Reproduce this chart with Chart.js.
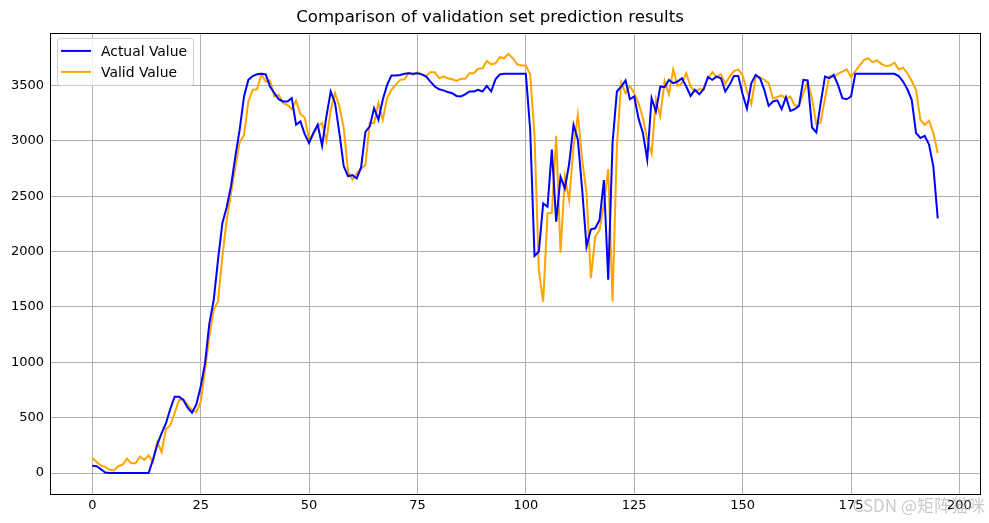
<!DOCTYPE html>
<html>
<head>
<meta charset="utf-8">
<script src="https://cdn.jsdelivr.net/npm/chart.js@4.4.1/dist/chart.umd.min.js"></script>
<style>
  html, body { margin: 0; padding: 0; background: #fff; }
  #wrap { width: 989px; height: 523px; position: relative; }
</style>
</head>
<body>
<div id="wrap"><canvas id="grafico" width="989" height="523"></canvas></div>
<script>
// valores (índice 0..195)
const actual_value = [
  66, 62, 35, 5, 0, 0, 0, 0, 0, 0, 0, 0, 0, 0, 120, 260, 360, 450, 580, 690,
  690, 660, 590, 545, 620, 780, 990, 1350, 1560, 1925, 2255, 2400, 2590, 2860, 3100, 3400, 3550, 3585, 3600, 3605,
  3600, 3490, 3430, 3375, 3355, 3355, 3385, 3145, 3175, 3060, 2980, 3070, 3145, 2955, 3220, 3445, 3340, 3070, 2770, 2680,
  2690, 2660, 2760, 3080, 3130, 3295, 3190, 3370, 3505, 3590, 3590, 3595, 3605, 3610, 3605, 3610, 3600, 3580, 3535, 3490,
  3465, 3455, 3440, 3430, 3405, 3400, 3420, 3445, 3445, 3460, 3445, 3495, 3445, 3555, 3600, 3605, 3605, 3605, 3605, 3605,
  3605, 3100, 1960, 2000, 2435, 2405, 2920, 2270, 2675, 2570, 2795, 3145, 3010, 2555, 2045, 2200, 2210, 2285, 2645, 1745,
  2980, 3445, 3490, 3545, 3375, 3400, 3200, 3070, 2830, 3385, 3265, 3490, 3485, 3550, 3520, 3535, 3565, 3490, 3405, 3460,
  3420, 3465, 3575, 3550, 3580, 3565, 3445, 3505, 3585, 3585, 3420, 3290, 3520, 3595, 3565, 3460, 3315, 3355, 3365, 3285,
  3395, 3270, 3285, 3315, 3550, 3545, 3120, 3075, 3340, 3580, 3565, 3595, 3505, 3385, 3375, 3400, 3605, 3605, 3605, 3605,
  3605, 3605, 3605, 3605, 3605, 3605, 3585, 3535, 3465, 3370, 3070, 3025, 3045, 2965, 2765, 2300
];
const valid_value = [
  135, 100, 68, 56, 30, 24, 62, 75, 130, 88, 88, 150, 118, 160, 100, 280, 190, 400, 430, 540,
  660, 665, 615, 570, 550, 640, 930, 1230, 1475, 1550, 1955, 2285, 2525, 2765, 2990, 3050, 3355, 3460, 3465, 3600,
  3535, 3545, 3400, 3415, 3340, 3325, 3285, 3365, 3240, 3210, 3010, 3060, 3130, 3160, 3000, 3280, 3430, 3310, 3115, 2720,
  2650, 2705, 2750, 2780, 3160, 3160, 3340, 3190, 3385, 3460, 3505, 3550, 3555, 3615, 3595, 3620, 3600, 3585, 3620, 3620,
  3565, 3580, 3565, 3555, 3540, 3560, 3560, 3610, 3610, 3650, 3655, 3720, 3690, 3700, 3755, 3745, 3785, 3745, 3690, 3680,
  3680, 3600, 3050, 1830, 1545, 2345, 2350, 3045, 1990, 2675, 2465, 2950, 3235, 2830, 2525, 1760, 2135, 2195, 2435, 2745,
  1550, 2950, 3525, 3430, 3495, 3430, 3340, 3205, 3010, 2885, 3370, 3220, 3540, 3420, 3645, 3495, 3520, 3610, 3490, 3445,
  3465, 3465, 3565, 3620, 3575, 3600, 3515, 3580, 3630, 3645, 3590, 3450, 3330, 3580, 3570, 3550, 3520, 3380, 3395, 3410,
  3380, 3400, 3320, 3315, 3430, 3530, 3385, 3150, 3165, 3385, 3585, 3575, 3605, 3625, 3645, 3575, 3630, 3680, 3730, 3745,
  3710, 3725, 3695, 3675, 3680, 3705, 3645, 3660, 3610, 3540, 3460, 3190, 3145, 3180, 3070, 2890
];
const x_ticks = [0, 25, 50, 75, 100, 125, 150, 175, 200];
const y_ticks = [0, 500, 1000, 1500, 2000, 2500, 3000, 3500];
const titulo = "Comparison of validation set prediction results";
const marca_dagua = "CSDN @矩阵猫咪";

const FONTE = "'DejaVu Sans', sans-serif";

// moldura preta nos quatro lados + legenda dentro da área + marca d'água
const plugin_extras = {
  id: "extras",
  afterDatasetsDraw(chart) {
    const { ctx, chartArea: a } = chart;
    ctx.save();
    // legenda
    const bx = a.left + 7, by = a.top + 5, bw = 136, bh = 47;
    ctx.fillStyle = "rgba(255,255,255,0.8)";
    ctx.strokeStyle = "#d0d0d0";
    ctx.lineWidth = 1;
    ctx.beginPath();
    ctx.roundRect(bx + 0.5, by + 0.5, bw, bh, 3);
    ctx.fill();
    ctx.stroke();
    ctx.font = "13.9px " + FONTE;
    ctx.textBaseline = "middle";
    chart.data.datasets.forEach((ds, i) => {
      const ly = by + 13 + i * 21;
      ctx.strokeStyle = ds.borderColor;
      ctx.lineWidth = 2;
      ctx.beginPath();
      ctx.moveTo(bx + 4, ly);
      ctx.lineTo(bx + 34, ly);
      ctx.stroke();
      ctx.fillStyle = "#000";
      ctx.fillText(ds.label, bx + 44, ly + 1);
    });
    // moldura
    ctx.strokeStyle = "#000";
    ctx.lineWidth = 1;
    ctx.strokeRect(Math.round(a.left) + 0.5, Math.round(a.top) + 0.5,
      Math.round(a.right - a.left), Math.round(a.bottom - a.top));
    ctx.restore();
  },
  afterDraw(chart) {
    const { ctx } = chart;
    ctx.save();
    ctx.font = "17px 'Noto Sans CJK SC', " + FONTE;
    ctx.fillStyle = "rgba(150,150,150,0.5)";
    ctx.textAlign = "right";
    ctx.textBaseline = "middle";
    ctx.fillText(marca_dagua, 985, 506);
    ctx.restore();
  },
};

function montar_grafico(idElemento) {
  const ctx = document.getElementById(idElemento);
  if (!ctx) throw `${idElemento} não encontrado!`;
  const datasets = [
    { label: "Actual Value", data: actual_value.map((v, i) => ({ x: i, y: v })), borderColor: "#0000ff" },
    { label: "Valid Value", data: valid_value.map((v, i) => ({ x: i, y: v })), borderColor: "#ffa500" },
  ].map((d) => ({ ...d, borderWidth: 2, pointRadius: 0, tension: 0, fill: false }));

  return new Chart(ctx, {
    type: "line",
    data: { datasets },
    plugins: [plugin_extras],
    options: {
      responsive: false,
      animation: false,
      devicePixelRatio: 1,
      layout: { padding: { left: 0, right: 9, top: 0, bottom: 0 } },
      plugins: {
        legend: { display: false },
        tooltip: { enabled: false },
        title: {
          display: true,
          text: titulo,
          color: "#000",
          font: { family: FONTE, size: 16.6, weight: "normal" },
          padding: { top: 8, bottom: 5 },
        },
      },
      scales: {
        x: {
          type: "linear",
          min: -9.75,
          max: 204.75,
          afterBuildTicks: (s) => { s.ticks = x_ticks.map((v) => ({ value: v })); },
          afterFit: (s) => { s.height = 29; },
          ticks: { color: "#000", font: { family: FONTE, size: 13 }, padding: 4, maxRotation: 0,
            callback: (v) => String(v) },
          grid: { color: "#b0b0b0", lineWidth: 1, drawTicks: false },
          border: { display: false },
        },
        y: {
          min: -189,
          max: 3974,
          afterBuildTicks: (s) => { s.ticks = y_ticks.map((v) => ({ value: v })); },
          afterFit: (s) => { s.width = 50; },
          ticks: { color: "#000", font: { family: FONTE, size: 13 }, padding: 6,
            callback: (v) => String(v) },
          grid: { color: "#b0b0b0", lineWidth: 1, drawTicks: false },
          border: { display: false },
        },
      },
    },
  });
}

montar_grafico("grafico");
</script>
</body>
</html>
